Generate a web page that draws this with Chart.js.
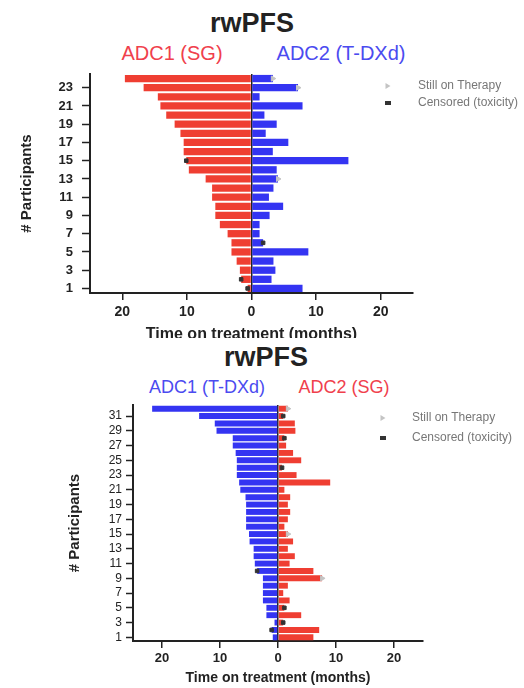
<!DOCTYPE html>
<html>
<head>
<meta charset="utf-8">
<script src="https://cdn.jsdelivr.net/npm/chart.js@4.4.0/dist/chart.umd.min.js"></script>
<style>
  body { margin: 0; background: #fff; font-family: "Liberation Sans", Arial, sans-serif; }
  #page { position: relative; width: 524px; height: 688px; overflow: hidden; }
  .title { position: absolute; font-weight: bold; font-size: 27px; color: #222; transform: translate(-50%, -50%); white-space: nowrap; }
  .sub { position: absolute; transform: translate(-50%, -50%); white-space: nowrap; }
  .red { color: #f0404c; }
  .blue { color: #4b4bf0; }
  .box { position: absolute; left: 0; width: 524px; overflow: hidden; }
  .legend { position: absolute; font-size: 12px; color: #777; white-space: nowrap; }
  .legend div { position: relative; height: 17px; line-height: 17px; }
  .mk { position: absolute; top: 50%; transform: translate(-50%, -50%); }
  .still { width: 0; height: 0; border-top: 3px solid transparent; border-bottom: 3px solid transparent; border-left: 5px solid #c4c4c4; }
  .cens { width: 6px; height: 4px; background: #333; }
</style>
</head>
<body>
<div id="page">
  <div class="title" style="left:252px; top:23px;">rwPFS</div>
  <div class="sub red" style="left:172px; top:53px; font-size:20px;">ADC1 (SG)</div>
  <div class="sub blue" style="left:341px; top:53px; font-size:20px;">ADC2 (T-DXd)</div>
  <div class="box" style="top:66px; height:272px;"><canvas id="chartTop" width="524" height="290"></canvas></div>
  <div class="legend" style="left:418px; top:77px;">
    <div><span class="mk still" style="left:-30px;"></span>Still on Therapy</div>
    <div><span class="mk cens" style="left:-30px;"></span>Censored (toxicity)</div>
  </div>

  <div class="title" style="left:266px; top:357px;">rwPFS</div>
  <div class="sub blue" style="left:207px; top:387px; font-size:18px;">ADC1 (T-DXd)</div>
  <div class="sub red" style="left:344px; top:387px; font-size:18px;">ADC2 (SG)</div>
  <div class="box" style="top:395px; height:293px;"><canvas id="chartBottom" width="524" height="293"></canvas></div>
  <div class="legend" style="left:412px; top:409px;">
    <div><span class="mk still" style="left:-29px;"></span>Still on Therapy</div>
    <div style="margin-top:3px;"><span class="mk cens" style="left:-29px;"></span>Censored (toxicity)</div>
  </div>
</div>
<script>
// top panel: participants 1..24 (bottom to top)
const topParticipants = ['1','2','3','4','5','6','7','8','9','10','11','12',
  '13','14','15','16','17','18','19','20','21','22','23','24'];
// months on ADC1 (SG), drawn to the left
const topAdc1 = [0.6, 1.6, 1.8, 2.3, 3.1, 3.1, 3.7, 4.9, 5.6, 5.6, 6.1, 6.1,
  7.1, 9.7, 10.1, 10.5, 10.5, 11.0, 11.9, 13.2, 14.1, 14.5, 16.7, 19.6];
// months on ADC2 (T-DXd), drawn to the right
const topAdc2 = [7.9, 3.1, 3.7, 3.4, 8.8, 1.8, 1.25, 1.25, 2.8, 4.9, 2.7, 3.4,
  4.1, 3.9, 15.0, 3.3, 5.7, 2.2, 3.9, 2.0, 7.9, 1.25, 7.2, 3.3];
// [participant, months] markers (negative = left side)
const topStill = [[24, 3.3], [23, 7.2], [13, 4.1]];
const topCensored = [[1, -0.6], [2, -1.6], [6, 1.8], [15, -10.1]];

// bottom panel: participants 1..32
const bottomParticipants = ['1','2','3','4','5','6','7','8','9','10','11','12',
  '13','14','15','16','17','18','19','20','21','22','23','24',
  '25','26','27','28','29','30','31','32'];
// months on ADC1 (T-DXd), drawn to the left
const bottomAdc1 = [0.9, 1.1, 0.6, 2.0, 2.0, 2.6, 2.6, 2.6, 2.6, 3.6, 4.0, 4.2,
  4.2, 4.9, 5.0, 5.5, 5.5, 5.5, 5.5, 5.6, 6.5, 6.7, 7.1, 7.1,
  7.1, 7.3, 7.8, 7.8, 10.6, 10.9, 13.6, 21.7];
// months on ADC2 (SG), drawn to the right
const bottomAdc2 = [6.1, 7.1, 0.9, 4.0, 1.1, 2.0, 0.9, 1.7, 7.6, 6.1, 2.0, 2.9,
  1.7, 2.6, 1.7, 1.1, 1.7, 2.1, 1.7, 2.1, 1.1, 9.0, 3.2, 0.7,
  4.0, 2.6, 1.4, 1.1, 3.0, 2.9, 0.9, 1.7];
const bottomStill = [[9, 7.6], [15, 1.7], [32, 1.7]];
const bottomCensored = [[2, -1.1], [3, 0.9], [5, 1.1], [10, -3.6], [24, 0.7], [28, 1.1], [31, 0.9]];

const xTicks = [-20, -10, 0, 10, 20];
const RED = '#ef3e32';
const BLUE = '#3434f2';
const INK = '#222';

function markers(list) {
  return list.map(([p, v]) => ({ x: v, y: String(p) }));
}

function buildChart(id, o) {
  const datasets = [
    { label: o.leftName, data: o.left.map(v => -v), backgroundColor: o.leftColor,
      grouped: false, barPercentage: 0.8, categoryPercentage: 1, order: 2 },
    { label: o.rightName, data: o.right, backgroundColor: o.rightColor,
      grouped: false, barPercentage: 0.8, categoryPercentage: 1, order: 2 },
    { type: 'scatter', label: 'Still on Therapy', data: markers(o.still), order: 0,
      pointStyle: 'triangle', rotation: 90, radius: 3,
      backgroundColor: '#c4c4c4', borderColor: '#c4c4c4' },
    { type: 'scatter', label: 'Censored (toxicity)', data: markers(o.censored), order: 0,
      pointStyle: 'rect', radius: 2.5, backgroundColor: '#333', borderColor: '#333' }
  ];

  return new Chart(document.getElementById(id), {
    type: 'bar',
    data: { labels: o.labels, datasets },
    options: {
      indexAxis: 'y',
      responsive: false,
      animation: false,
      devicePixelRatio: 1,
      layout: { padding: { left: 0, right: o.padRight, top: o.padTop, bottom: 0 } },
      plugins: { legend: { display: false }, tooltip: { enabled: false } },
      scales: {
        x: {
          min: -25, max: 25, z: 1,
          afterBuildTicks: s => { s.ticks = xTicks.map(v => ({ value: v })); },
          afterFit: s => { s.height = o.xHeight; },
          grid: {
            drawOnChartArea: true,
            color: c => (c.tick && c.tick.value === 0 ? INK : 'rgba(0,0,0,0)'),
            lineWidth: 1.5, tickLength: 7, tickColor: INK, tickWidth: 1.5
          },
          border: { color: INK, width: 2 },
          ticks: { callback: v => Math.abs(v), font: o.xTickFont, color: INK, padding: o.xTickPad, maxRotation: 0 },
          title: { display: true, text: 'Time on treatment (months)', font: o.xTitleFont, color: INK,
            padding: { top: 0, bottom: o.xTitlePad } }
        },
        y: {
          reverse: true,
          afterFit: s => { s.width = o.yWidth; s.paddingTop = 0; s.paddingBottom = 0; },
          grid: {
            offset: false,
            drawOnChartArea: false, tickLength: o.yTickLen, tickWidth: 1.5,
            tickColor: c => (c.index % 2 === 0 ? INK : 'rgba(0,0,0,0)')
          },
          border: { color: INK, width: 2 },
          ticks: { autoSkip: false, callback: (v, i) => (i % 2 === 0 ? o.labels[i] : ''),
            font: o.yTickFont, color: INK, padding: o.yTickPad },
          title: { display: true, text: '# Participants', font: { size: 15, weight: 'bold' }, color: INK,
            padding: { top: o.yTitlePad, bottom: 0 } }
        }
      }
    }
  });
}

Chart.defaults.font.family = '"Liberation Sans", Arial, sans-serif';

buildChart('chartTop', {
  labels: topParticipants,
  left: topAdc1, leftName: 'ADC1 (SG)', leftColor: RED,
  right: topAdc2, rightName: 'ADC2 (T-DXd)', rightColor: BLUE,
  still: topStill, censored: topCensored,
  padRight: 111, padTop: 8, xHeight: 63, yWidth: 90,
  xTickFont: { size: 14, weight: 'bold' }, xTickPad: 3.6,
  xTitleFont: { size: 16, weight: 'bold' }, xTitlePad: 11.4,
  yTickFont: { size: 13, weight: 'bold' }, yTickLen: 8, yTickPad: 9, yTitlePad: 18
});

buildChart('chartBottom', {
  labels: bottomParticipants,
  left: bottomAdc1, leftName: 'ADC1 (T-DXd)', leftColor: BLUE,
  right: bottomAdc2, rightName: 'ADC2 (SG)', rightColor: RED,
  still: bottomStill, censored: bottomCensored,
  padRight: 101, padTop: 10, xHeight: 47, yWidth: 133,
  xTickFont: { size: 13, weight: 'bold' }, xTickPad: 2.2,
  xTitleFont: { size: 14, weight: 'bold' }, xTitlePad: 1.6,
  yTickFont: { size: 12 }, yTickLen: 7, yTickPad: 4, yTitlePad: 66
});
</script>
</body>
</html>
